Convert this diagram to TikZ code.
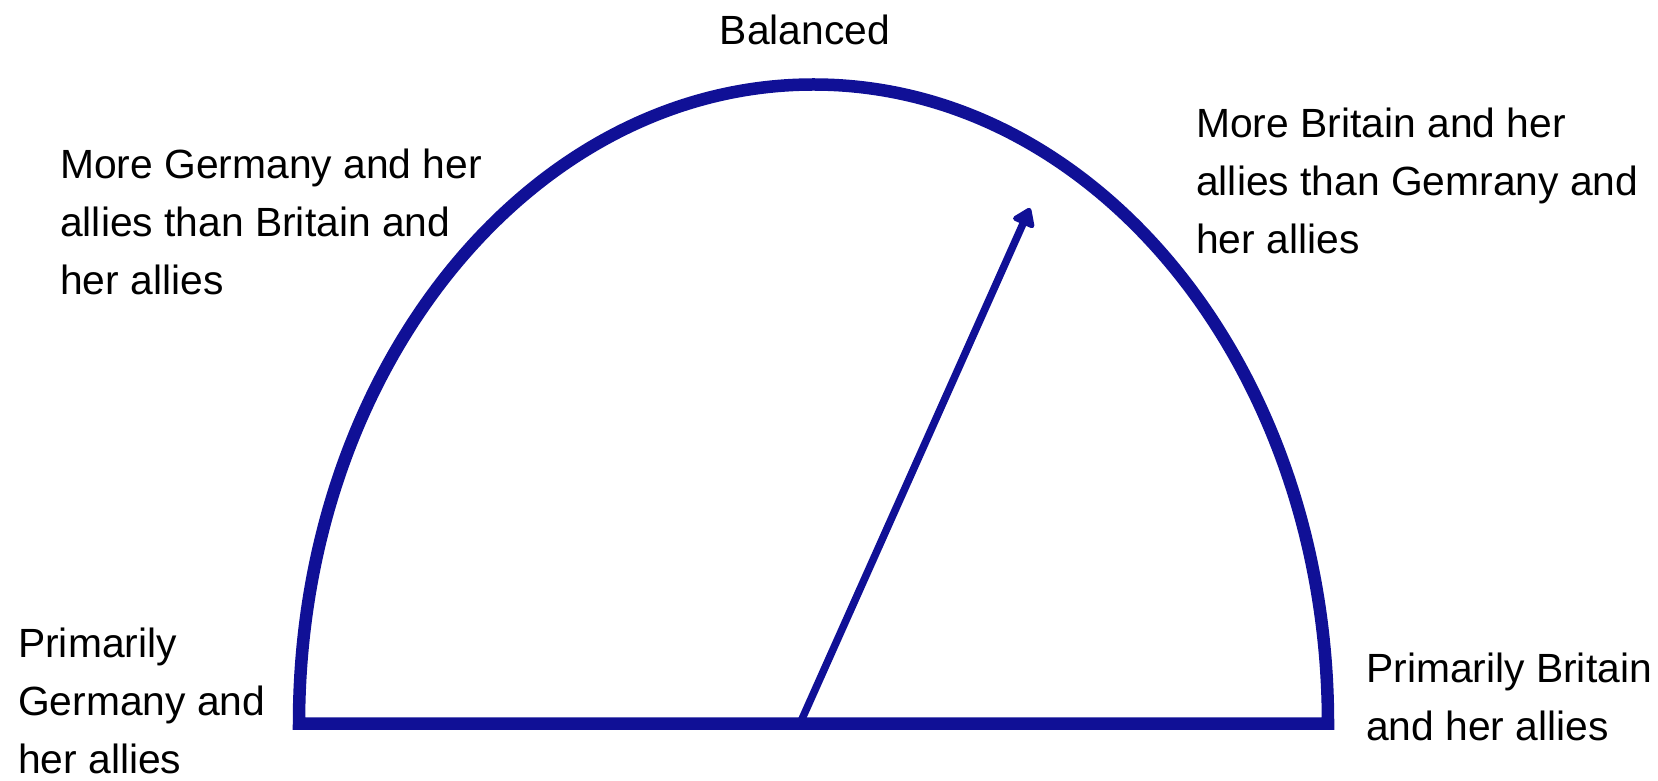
\documentclass[tikz,border=0pt]{standalone}
\usepackage{fontspec}
\setmainfont{Liberation Sans}
\usetikzlibrary{arrows.meta}
\definecolor{gaugeblue}{RGB}{16,16,150}
\tikzset{
  gauge/.style={draw=gaugeblue, line width=12.5pt, line join=miter},
  needle/.style={draw=gaugeblue, line width=7.5pt, line cap=round,
    -{Triangle[length=20pt,width=26pt,round]}},
  lbl/.style={inner sep=0pt, align=left, anchor=north west,
    font=\fontsize{40.8pt}{58pt}\selectfont, text=black}
}
\begin{document}
\begin{tikzpicture}[x=1pt,y=1pt]
\useasboundingbox (0,0) rectangle (1658,780);
% gauge
\coordinate (c) at (813.5,56.5);
\coordinate (left) at (299,56.5);
\coordinate (base) at (800,56.5);
\coordinate (tip) at (1030,572);
\draw[gauge] (left) arc[start angle=180, end angle=0, x radius=514.5, y radius=639] -- cycle;
\draw[needle] (base) -- (tip);
% labels
\node[lbl, anchor=base] (bal) at (805,735) {Balanced};
\node[lbl] (moreG) at (60,631) {More Germany and her\\allies than Britain and\\her allies};
\node[lbl] (moreB) at (1196,672) {More Britain and her\\allies than Gemrany and\\her allies};
\node[lbl] (primG) at (18,152) {Primarily\\Germany and\\her allies};
\node[lbl] (primB) at (1366,127) {Primarily Britain\\and her allies};
\end{tikzpicture}
\end{document}
